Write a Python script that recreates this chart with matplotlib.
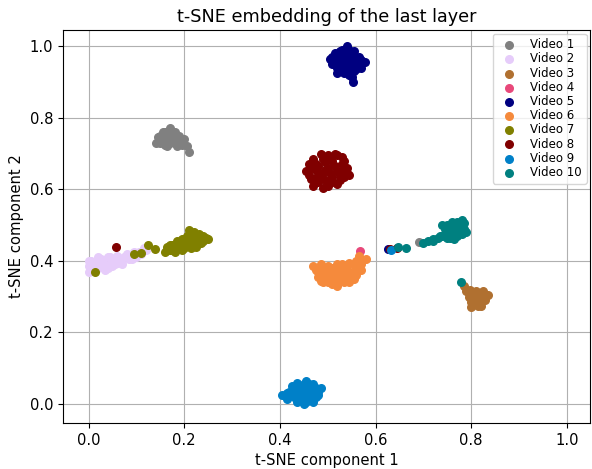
import matplotlib.pyplot as plt
import numpy as np

plt.rcParams['font.size'] = 10.6

labels = ["Video 1", "Video 2", "Video 3", "Video 4", "Video 5",
          "Video 6", "Video 7", "Video 8", "Video 9", "Video 10"]
colors = ["#808080", "#e6ccfa", "#b07030", "#e8487a", "#000080",
          "#f58a3c", "#808000", "#800000", "#0080c8", "#008080"]

# (x, y) points
video1 = [(0.14, 0.73), (0.15, 0.75), (0.16, 0.76), (0.17, 0.77), (0.18, 0.76),
          (0.19, 0.75), (0.15, 0.73), (0.16, 0.74), (0.17, 0.73), (0.18, 0.74),
          (0.19, 0.73), (0.17, 0.75), (0.165, 0.72), (0.185, 0.72), (0.2, 0.74),
          (0.205, 0.72), (0.21, 0.705), (0.145, 0.745), (0.175, 0.755),
          (0.195, 0.725), (0.155, 0.74), (0.165, 0.75), (0.175, 0.735),
          (0.185, 0.745), (0.16, 0.725), (0.18, 0.73), (0.17, 0.76),
          (0.155, 0.76), (0.19, 0.74), (0.195, 0.735), (0.69, 0.452)]
video2 = [(0.0, 0.385), (0.005, 0.4), (0.01, 0.375), (0.015, 0.395), (0.02, 0.41),
          (0.025, 0.385), (0.03, 0.4), (0.035, 0.39), (0.04, 0.41), (0.045, 0.395),
          (0.05, 0.385), (0.055, 0.405), (0.06, 0.415), (0.065, 0.4), (0.07, 0.39),
          (0.075, 0.41), (0.08, 0.42), (0.085, 0.405), (0.09, 0.415), (0.095, 0.425),
          (0.1, 0.41), (0.11, 0.42), (0.12, 0.43), (0.115, 0.435), (0.0, 0.4),
          (0.02, 0.38), (0.04, 0.38), (0.01, 0.39), (0.03, 0.39), (0.05, 0.4),
          (0.07, 0.405), (0.09, 0.405), (0.06, 0.395), (0.08, 0.41), (0.045, 0.41),
          (0.1, 0.42), (0.105, 0.425), (0.025, 0.405), (0.035, 0.375), (0.0, 0.37),
          (0.055, 0.39)]
video3 = [(0.785, 0.33), (0.79, 0.315), (0.795, 0.3), (0.8, 0.285), (0.805, 0.31),
          (0.81, 0.29), (0.815, 0.275), (0.82, 0.3), (0.825, 0.315), (0.83, 0.29),
          (0.835, 0.305), (0.8, 0.27), (0.81, 0.305), (0.82, 0.285), (0.798, 0.32),
          (0.805, 0.295), (0.815, 0.29), (0.825, 0.3), (0.815, 0.31), (0.805, 0.28),
          (0.795, 0.31), (0.83, 0.305), (0.82, 0.275), (0.81, 0.315), (0.8, 0.3)]
video4 = [(0.567, 0.428)]
video5 = [(0.505, 0.965), (0.51, 0.95), (0.515, 0.98), (0.52, 0.94), (0.525, 0.965),
          (0.53, 0.99), (0.535, 0.95), (0.54, 0.975), (0.545, 0.935), (0.55, 0.96),
          (0.555, 0.985), (0.56, 0.95), (0.565, 0.97), (0.57, 0.94), (0.578, 0.955),
          (0.52, 0.925), (0.535, 0.925), (0.55, 0.915), (0.553, 0.9), (0.54, 1.0),
          (0.53, 0.96), (0.545, 0.955), (0.56, 0.935), (0.515, 0.96), (0.525, 0.985),
          (0.51, 0.97), (0.52, 0.955), (0.53, 0.945), (0.54, 0.96), (0.55, 0.945),
          (0.56, 0.965), (0.545, 0.99), (0.535, 0.98), (0.525, 0.95), (0.555, 0.93),
          (0.565, 0.955), (0.57, 0.96), (0.54, 0.94), (0.53, 0.93), (0.55, 0.975),
          (0.52, 0.97), (0.545, 0.92), (0.627, 0.433)]
video6 = [(0.475, 0.375), (0.48, 0.355), (0.485, 0.39), (0.49, 0.34), (0.495, 0.37),
          (0.5, 0.385), (0.505, 0.35), (0.51, 0.335), (0.515, 0.365), (0.52, 0.39),
          (0.525, 0.345), (0.53, 0.375), (0.535, 0.355), (0.54, 0.385), (0.545, 0.34),
          (0.55, 0.37), (0.555, 0.39), (0.56, 0.36), (0.565, 0.395), (0.57, 0.375),
          (0.58, 0.405), (0.565, 0.415), (0.545, 0.395), (0.5, 0.34), (0.52, 0.33),
          (0.49, 0.36), (0.47, 0.385), (0.48, 0.37), (0.49, 0.38), (0.5, 0.36),
          (0.51, 0.37), (0.52, 0.355), (0.53, 0.36), (0.54, 0.37), (0.55, 0.355),
          (0.56, 0.38), (0.51, 0.38), (0.525, 0.38), (0.535, 0.34), (0.495, 0.35),
          (0.485, 0.345), (0.545, 0.36), (0.56, 0.4), (0.57, 0.39), (0.555, 0.35),
          (0.515, 0.345), (0.53, 0.39)]
video7 = [(0.16, 0.425), (0.165, 0.44), (0.17, 0.43), (0.175, 0.445), (0.18, 0.425),
          (0.185, 0.455), (0.19, 0.44), (0.195, 0.43), (0.2, 0.46), (0.205, 0.445),
          (0.21, 0.475), (0.215, 0.455), (0.22, 0.48), (0.225, 0.44), (0.23, 0.465),
          (0.235, 0.45), (0.24, 0.47), (0.25, 0.46), (0.2, 0.435), (0.215, 0.435),
          (0.225, 0.47), (0.21, 0.485), (0.175, 0.43), (0.165, 0.43), (0.18, 0.44),
          (0.19, 0.45), (0.2, 0.445), (0.21, 0.46), (0.22, 0.465), (0.23, 0.45),
          (0.24, 0.455), (0.245, 0.465), (0.205, 0.47), (0.215, 0.47), (0.195, 0.46),
          (0.185, 0.435), (0.22, 0.455), (0.23, 0.475), (0.17, 0.445),
          (0.095, 0.42), (0.11, 0.422), (0.124, 0.444), (0.138, 0.432), (0.014, 0.37)]
video8 = [(0.455, 0.65), (0.46, 0.67), (0.465, 0.63), (0.47, 0.685), (0.475, 0.655),
          (0.48, 0.62), (0.485, 0.7), (0.49, 0.645), (0.495, 0.675), (0.5, 0.61),
          (0.505, 0.69), (0.51, 0.635), (0.515, 0.665), (0.52, 0.695), (0.525, 0.625),
          (0.53, 0.65), (0.535, 0.68), (0.54, 0.66), (0.545, 0.64), (0.47, 0.61),
          (0.49, 0.605), (0.5, 0.66), (0.48, 0.665), (0.52, 0.615), (0.46, 0.64),
          (0.465, 0.66), (0.475, 0.67), (0.485, 0.635), (0.495, 0.625), (0.505, 0.645),
          (0.51, 0.68), (0.52, 0.65), (0.53, 0.67), (0.525, 0.64), (0.535, 0.635),
          (0.5, 0.695), (0.49, 0.685), (0.51, 0.62), (0.54, 0.645), (0.48, 0.64),
          (0.47, 0.63), (0.495, 0.655), (0.515, 0.7), (0.53, 0.69),
          (0.058, 0.438), (0.63, 0.432), (0.645, 0.435)]
video9 = [(0.405, 0.025), (0.415, 0.015), (0.42, 0.035), (0.425, 0.05), (0.43, 0.02),
          (0.435, 0.06), (0.44, 0.035), (0.445, 0.01), (0.45, 0.045), (0.455, 0.065),
          (0.46, 0.025), (0.465, 0.04), (0.47, 0.055), (0.475, 0.02), (0.48, 0.035),
          (0.485, 0.045), (0.45, 0.0), (0.46, 0.01), (0.435, 0.005), (0.47, 0.005),
          (0.43, 0.04), (0.44, 0.05), (0.45, 0.03), (0.46, 0.045), (0.47, 0.035),
          (0.455, 0.02), (0.445, 0.025), (0.465, 0.02), (0.475, 0.045), (0.44, 0.015),
          (0.425, 0.03), (0.415, 0.03), (0.45, 0.055), (0.46, 0.055), (0.48, 0.025),
          (0.455, 0.005), (0.633, 0.43)]
video10 = [(0.7, 0.45), (0.71, 0.455), (0.72, 0.46), (0.73, 0.465), (0.74, 0.47),
           (0.745, 0.49), (0.75, 0.5), (0.755, 0.48), (0.76, 0.51), (0.765, 0.49),
           (0.77, 0.47), (0.775, 0.5), (0.78, 0.515), (0.785, 0.49), (0.79, 0.48),
           (0.765, 0.46), (0.75, 0.465), (0.74, 0.5), (0.76, 0.495), (0.775, 0.485),
           (0.75, 0.485), (0.76, 0.475), (0.77, 0.485), (0.78, 0.5), (0.765, 0.505),
           (0.755, 0.495), (0.745, 0.475), (0.735, 0.47), (0.77, 0.51), (0.785, 0.505),
           (0.78, 0.475), (0.72, 0.455), (0.755, 0.465),
           (0.647, 0.438), (0.663, 0.437), (0.778, 0.341)]

videos = [video1, video2, video3, video4, video5,
          video6, video7, video8, video9, video10]

fig, ax = plt.subplots(figsize=(5.92, 4.69), dpi=100)
fig.subplots_adjust(left=0.106, right=0.997, top=0.936, bottom=0.098)

for pts, lab, col in zip(videos, labels, colors):
    pts = np.array(pts)
    ax.scatter(pts[:, 0], pts[:, 1], s=30, c=col, label=lab)

ax.set_xlim(-0.054, 1.049)
ax.set_ylim(-0.053, 1.045)
ax.grid(True)
ax.set_axisbelow(True)
ax.set_title("t-SNE embedding of the last layer", fontsize=12.7)
ax.set_xlabel("t-SNE component 1")
ax.set_ylabel("t-SNE component 2")
ax.legend(loc="upper right", fontsize=8.5, labelspacing=0.1, borderaxespad=0.3)

plt.savefig("out.png", dpi=100)
